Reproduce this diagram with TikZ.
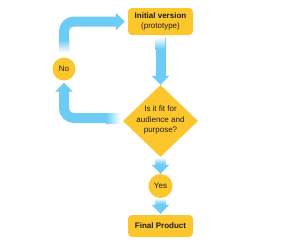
\documentclass[tikz,border=0pt]{standalone}
\usepackage{fontspec}
\setmainfont{Liberation Sans}
\usetikzlibrary{arrows.meta,shapes.geometric}
\definecolor{gold}{RGB}{252,198,45}
\definecolor{sky}{RGB}{108,204,246}
\definecolor{ink}{RGB}{30,30,30}
\begin{document}
\begin{tikzpicture}[x=1pt,y=-1pt,
  txt/.style={font=\fontsize{8}{10.5}\selectfont, text=ink, align=center},
  box/.style={txt, fill=gold, rounded corners=4pt, minimum width=65pt, inner sep=0pt},
  decision/.style={diamond, fill=gold, minimum width=75pt, minimum height=72pt, inner sep=0pt},
  answer/.style={txt, circle, fill=gold, minimum size=23pt, inner sep=0pt},
  arr/.style={draw=sky, line width=10pt, -{Triangle[width=17pt,length=9pt]}},
]
\useasboundingbox (0,0) rectangle (300,244);
% nodes
\node[box, minimum height=27pt] (init) at (160.5,21.5) {\textbf{Initial version}\\(prototype)};
\node[decision] (dia) at (160.5,121) {};
\node[txt] (diatext) at (160.5,120) {Is it fit for\\audience and\\purpose?};
\node[answer] (no) at (64,69) {No};
\node[answer, minimum size=24pt] (yes) at (160.5,186) {Yes};
\node[box, minimum height=22pt] (final) at (160.5,226) {\textbf{Final Product}};
% connectors
\draw[arr, shorten <=3pt] (init) -- (dia);
\draw[arr, shorten <=1pt] (dia) -- (yes);
\draw[arr, shorten <=1pt, shorten >=1pt] (yes) -- (final);
\draw[arr, rounded corners=10pt, shorten <=3pt, shorten >=2pt] ([yshift=3pt]dia.west) -| (no);
\draw[arr, rounded corners=10pt, shorten <=6pt, shorten >=3pt] (no) |- (init.west);
% fading tails
\shade[top color=white, bottom color=sky] (155,37.5) rectangle (165,49);
\shade[top color=white, bottom color=sky] (155.5,157.5) rectangle (165.5,164);
\shade[top color=white, bottom color=sky] (155.5,198) rectangle (165.5,204);
\shade[left color=sky, right color=white] (106,113) rectangle (120.5,123);
\shade[top color=sky, bottom color=white] (59,40) rectangle (69,52.5);
\end{tikzpicture}
\end{document}
